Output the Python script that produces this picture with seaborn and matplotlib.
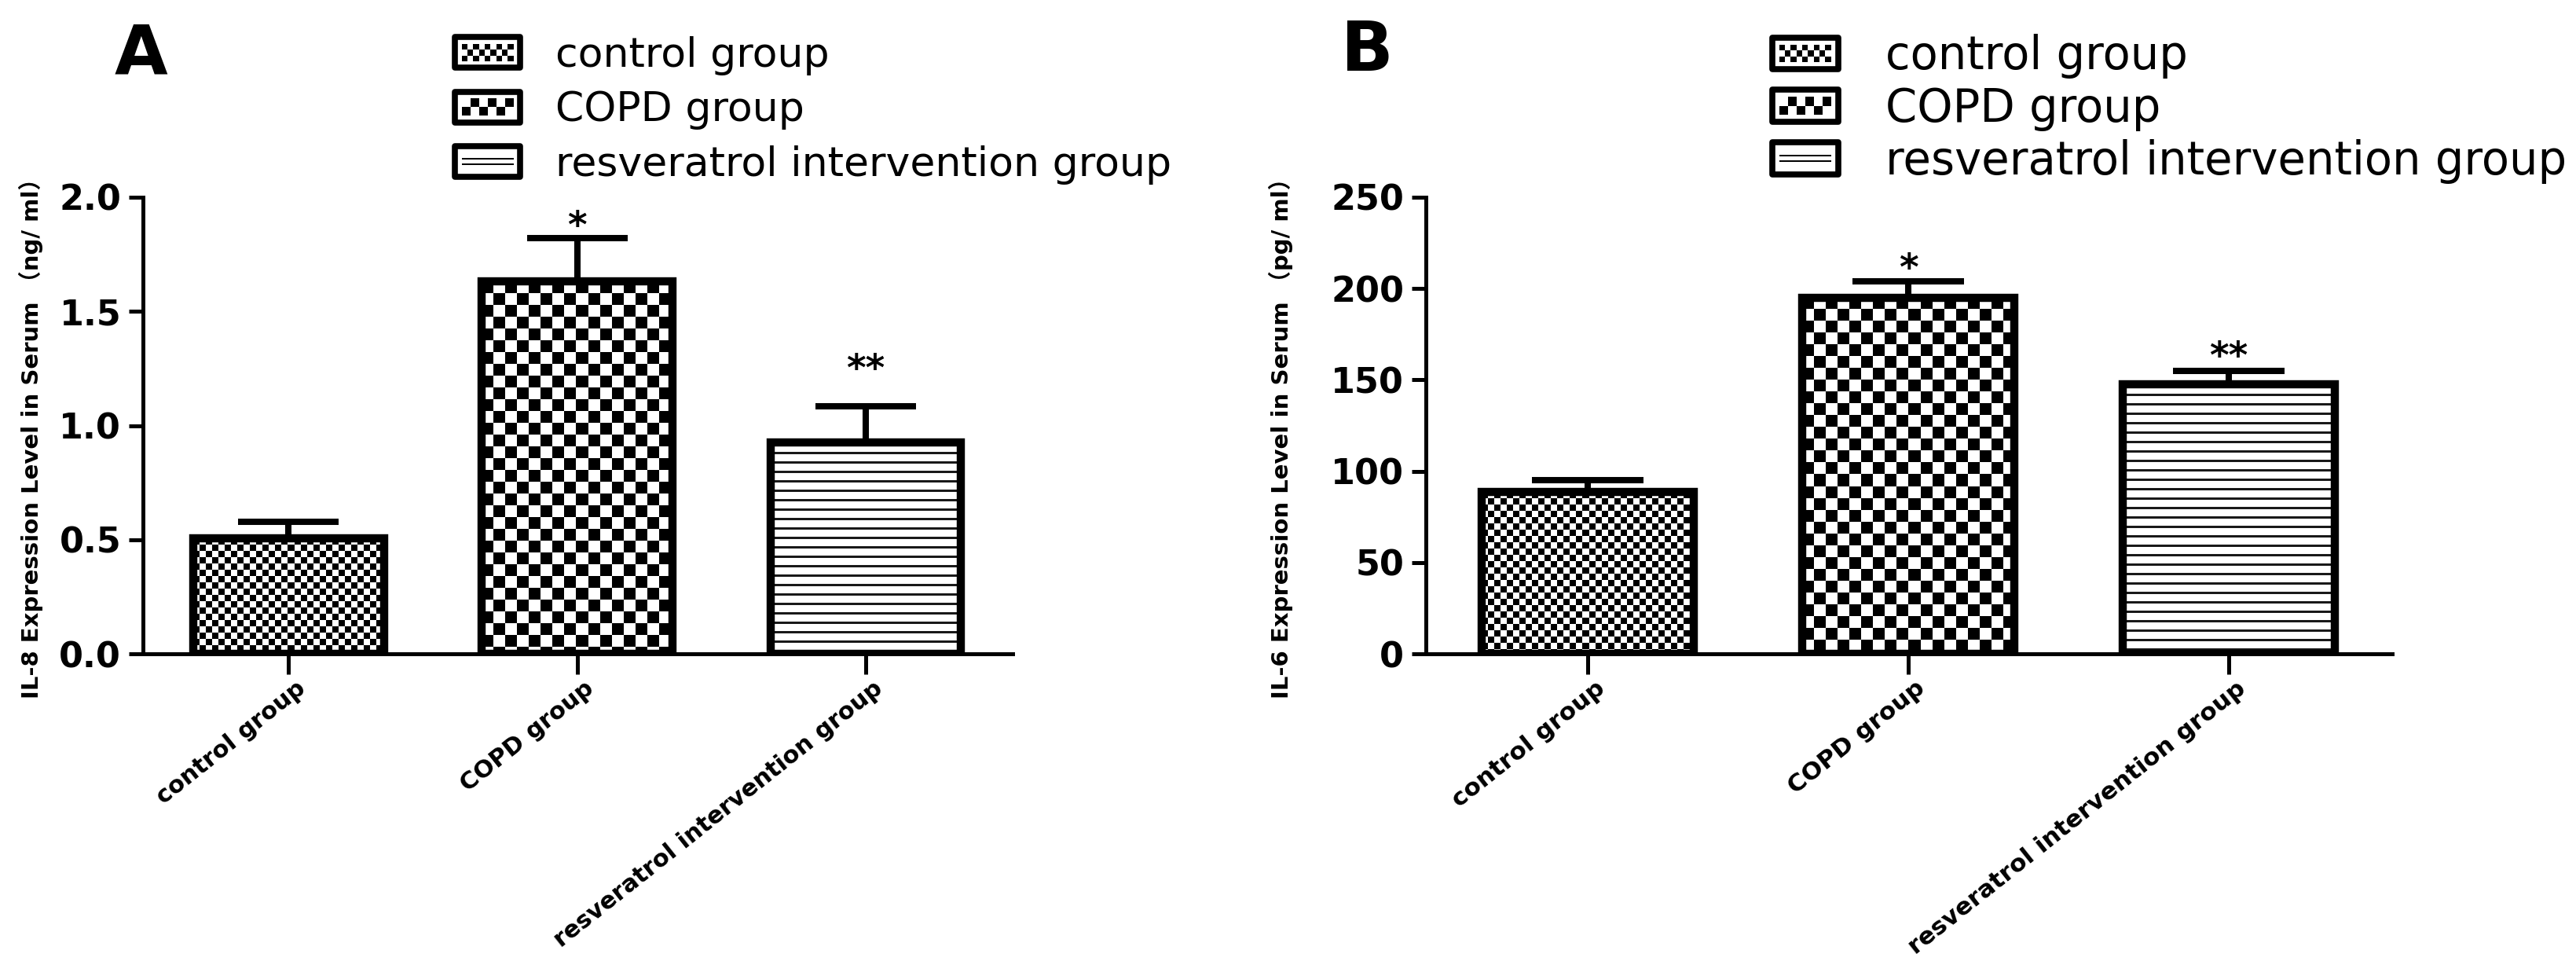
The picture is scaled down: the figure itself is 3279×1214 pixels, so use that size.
import numpy as np
import matplotlib
matplotlib.use("Agg")
import matplotlib.pyplot as plt
import matplotlib.transforms as mtransforms
from matplotlib.patches import Rectangle, Patch
from matplotlib.legend_handler import HandlerBase
import seaborn as sns

# ---- data ----
groups = ["control group", "COPD group", "resveratrol intervention group"]
patterns = ["fine", "coarse", "lines"]

il8_mean = [0.505, 1.63, 0.925]
il8_sem = [0.075, 0.19, 0.16]
il8_marks = ["", "*", "**"]
il8_ticks = [0.0, 0.5, 1.0, 1.5, 2.0]
il8_tick_labels = ["0.0", "0.5", "1.0", "1.5", "2.0"]

il6_mean = [88.5, 195.0, 147.5]
il6_sem = [6.5, 9.0, 7.5]
il6_marks = ["", "*", "**"]
il6_ticks = [0, 50, 100, 150, 200, 250]
il6_tick_labels = ["0", "50", "100", "150", "200", "250"]

il8_label = "IL-8 Expression Level in Serum \uff08ng/ ml\uff09"
il6_label = "IL-6 Expression Level in Serum \uff08pg/ ml\uff09"

W, H, DPI = 3280, 1214, 100

sns.set_style("ticks")
plt.rcParams["font.family"] = ["DejaVu Sans", "Noto Sans CJK SC"]
plt.rcParams["axes.linewidth"] = 3.6
for key in ["text.color", "axes.labelcolor", "xtick.color", "ytick.color", "axes.edgecolor"]:
    plt.rcParams[key] = "black"


def texture(kind, hpx, wpx):
    yy, xx = np.mgrid[0:hpx, 0:wpx]
    if kind == "lines":
        on = (yy % 12) < 3
        return np.where(on, 0.1, 1.0)
    cell = 8 if kind == "fine" else 15
    on = ((yy // cell + xx // cell) % 2) == 0
    return np.where(on, 0.0, 1.0)


class SwatchHandler(HandlerBase):
    def create_artists(self, legend, orig_handle, xdescent, ydescent,
                       width, height, fontsize, trans):
        x0, y0 = -xdescent, -ydescent
        kind = orig_handle.kind
        arts = []
        b = 0.22 * height
        iw, ih = width - 2 * b, height - 2 * b
        if kind == "lines":
            for f in (1 / 3, 2 / 3):
                arts.append(Rectangle((x0 + b, y0 + b + f * ih - 0.04 * ih), iw, 0.08 * ih,
                                      facecolor="black", edgecolor="none", transform=trans))
        else:
            nr = 3 if kind == "fine" else 2
            c = ih / nr
            nc = int(round(iw / c))
            c_w = iw / nc
            for r in range(nr):
                for k in range(nc):
                    if (r + k) % 2 == 0:
                        arts.append(Rectangle((x0 + b + k * c_w, y0 + b + r * c), c_w, c,
                                              facecolor="black", edgecolor="none", transform=trans))
        arts.append(Rectangle((x0, y0), width, height, facecolor="none", edgecolor="black",
                              linewidth=5.5, joinstyle="round", transform=trans))
        return arts


def draw_panel(ax, means, sems, marks, ticks, tick_labels, ylabel, capsize,
               xfs, rot, star_lift, label_x):
    sns.barplot(x=groups, y=means, ax=ax, color="white", edgecolor="black",
                linewidth=7.5, width=0.66, saturation=1, errorbar=None)
    xlim = (-0.505, 2.51)
    ylim = (ticks[0], ticks[-1])
    ax.set_xlim(*xlim)
    ax.set_ylim(*ylim)

    for bar, kind in zip(ax.patches, patterns):
        bar.set_facecolor("none")
        bar.set_zorder(2)
        x0, w, h = bar.get_x(), bar.get_width(), bar.get_height()
        p0 = ax.transData.transform((x0, 0))
        p1 = ax.transData.transform((x0 + w, h))
        img = texture(kind, int(round(p1[1] - p0[1])), int(round(p1[0] - p0[0])))
        im = ax.imshow(img, cmap="gray", vmin=0, vmax=1, extent=(x0, x0 + w, 0, h),
                       origin="upper", aspect="auto", interpolation="nearest", zorder=1.5)
        im.set_clip_path(bar)
    ax.set_xlim(*xlim)
    ax.set_ylim(*ylim)

    ax.errorbar(range(len(means)), means, yerr=[np.zeros(len(sems)), sems], fmt="none",
                ecolor="black", elinewidth=5.8, capsize=capsize, capthick=5.8, zorder=1.8)

    for i, (m, s, mk) in enumerate(zip(means, sems, marks)):
        if mk:
            ax.annotate(mk, xy=(i, m + s), xytext=(0, (star_lift[i] - 28) * 0.72),
                        textcoords="offset points", ha="center", va="baseline",
                        fontsize=34, fontweight="bold")

    sns.despine(ax=ax)
    ax.set_yticks(ticks)
    ax.set_yticklabels(tick_labels, fontsize=32, fontweight="bold")
    ax.tick_params(axis="y", length=13, width=3.6, pad=7, direction="out")
    ax.tick_params(axis="x", length=19, width=3.6, pad=2, direction="out")
    ax.set_xticks(range(len(groups)))
    ax.set_xticklabels(groups, rotation=rot, ha="right", va="top",
                       rotation_mode="anchor", fontsize=xfs, fontweight="bold")
    shift = mtransforms.ScaledTranslation(9 / DPI, 0, ax.figure.dpi_scale_trans)
    for lab in ax.get_xticklabels():
        lab.set_transform(lab.get_transform() + shift)
    ax.set_xlabel("")
    ax.set_ylabel(ylabel, fontsize=21, fontweight="bold",
                  family=["DejaVu Sans", "Noto Sans CJK SC"])
    ax.yaxis.set_label_coords(label_x, 0.485)


fig = plt.figure(figsize=(W / DPI, H / DPI), dpi=DPI)
ax_a = fig.add_axes([182 / W, 382 / H, 1107 / W, 581 / H])
ax_b = fig.add_axes([1815 / W, 382 / H, 1230 / W, 581 / H])

draw_panel(ax_a, il8_mean, il8_sem, il8_marks, il8_ticks, il8_tick_labels, il8_label,
           capsize=46, xfs=22, rot=38.5, star_lift=[0, 29, 61], label_x=-0.115)
draw_panel(ax_b, il6_mean, il6_sem, il6_marks, il6_ticks, il6_tick_labels, il6_label,
           capsize=51, xfs=22.5, rot=38.5, star_lift=[0, 30, 32], label_x=-0.137)


def swatches():
    out = []
    for g, k in zip(groups, patterns):
        p = Patch(label=g)
        p.kind = k
        out.append(p)
    return out


for x_anchor, fs, hl, htp, lsp, top in [(579 / W, 37.5, 1.6, 0.85, 0.37, 46),
                                        (2256 / W, 41.5, 1.45, 1.05, 0.17, 43)]:
    fig.legend(handles=swatches(), handler_map={Patch: SwatchHandler()},
               loc="upper left", bbox_to_anchor=(x_anchor, 1 - top / H),
               frameon=False, fontsize=fs, handlelength=hl, handleheight=29 / fs,
               handletextpad=htp, labelspacing=lsp, borderpad=0, borderaxespad=0)

for letter, xpx, base in [("A", 146, 94), ("B", 1707, 90)]:
    fig.text(xpx / W, 1 - base / H, letter, fontsize=63, fontweight="bold",
             family=["Liberation Sans Narrow", "DejaVu Sans"], va="baseline", ha="left")

fig.savefig("out.png", dpi=DPI, facecolor="white")
